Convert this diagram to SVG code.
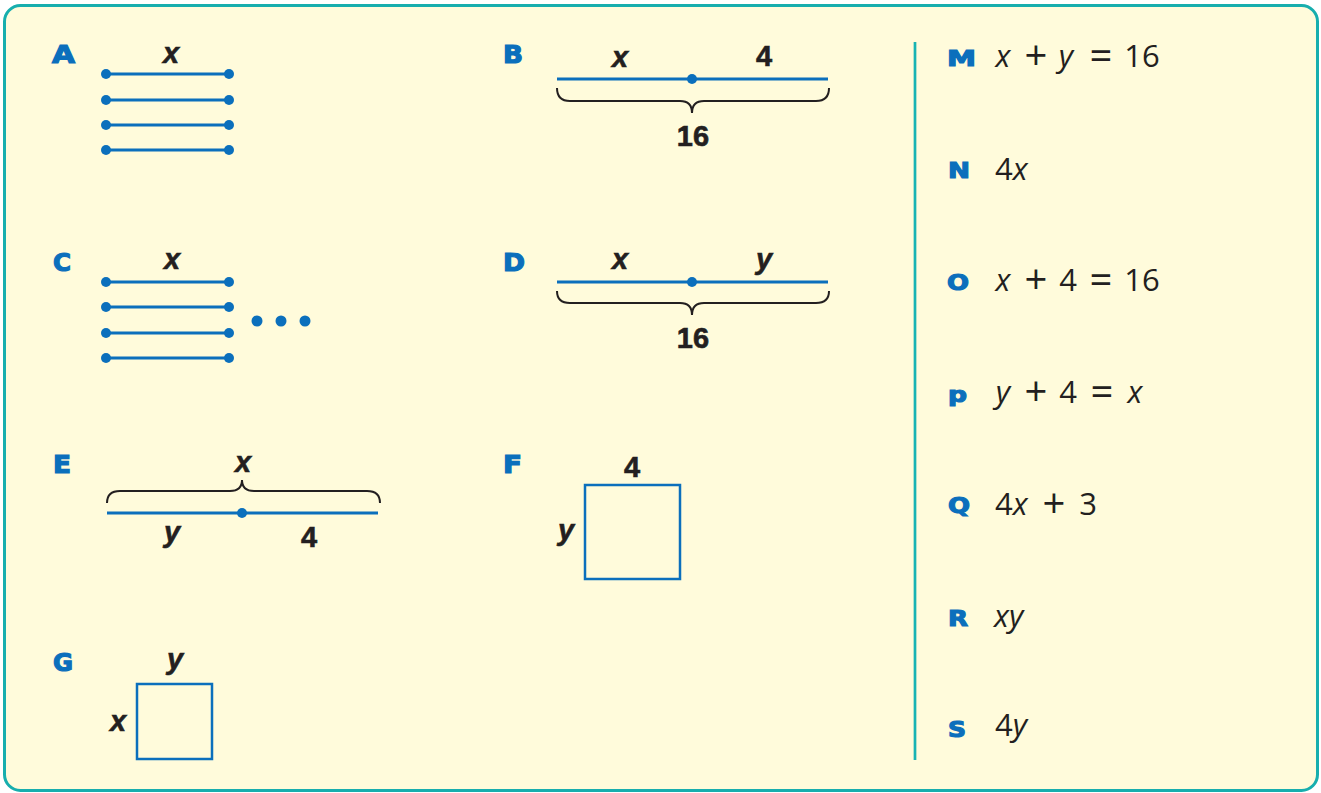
<svg xmlns="http://www.w3.org/2000/svg" width="1321" height="793" viewBox="0 0 1321 793">
<defs>
<style>
.bg{fill:#fffbdb;stroke:#17aeae;stroke-width:3}
.lbl{font-family:"DejaVu Sans","Liberation Sans",sans-serif;font-weight:bold;fill:#0b6fbc;stroke:#0b6fbc;stroke-width:1.2;font-size:24px}
.rl{font-size:22px}
.var{font-family:"Liberation Sans",Arial,sans-serif;font-weight:bold;font-style:italic;fill:#231f20;stroke:#231f20;stroke-width:0.6;font-size:29px;text-anchor:middle}
.num{font-family:"Liberation Sans",Arial,sans-serif;font-weight:bold;fill:#231f20;stroke:#231f20;stroke-width:0.6;font-size:29px;text-anchor:middle}
.seg{stroke:#0b6fbc;stroke-width:3;fill:none}
.dot{fill:#0b6fbc}
.brace{stroke:#231f20;stroke-width:2;fill:none}
.box{stroke:#0b6fbc;stroke-width:2.5;fill:none}
.expr{font-family:"Open Sans","Noto Sans","Liberation Sans",sans-serif;fill:#231f20;font-size:31px}
.op{font-size:40px}
.it{font-style:italic}
.mid{text-anchor:middle}
</style>
</defs>
<rect x="0" y="0" width="1321" height="793" fill="#ffffff"/>
<rect class="bg" x="4.5" y="5.5" width="1313" height="785" rx="16" ry="16"/>
<line x1="915" y1="42" x2="915" y2="760" stroke="#17b3b3" stroke-width="2.7"/>

<g id="A">
<text class="lbl" x="52" y="63" textLength="23" lengthAdjust="spacingAndGlyphs">A</text>
<text class="var" x="171" y="63">x</text>
<g>
<line class="seg" x1="106" y1="74" x2="229" y2="74"/><circle class="dot" cx="106" cy="74" r="5"/><circle class="dot" cx="229" cy="74" r="5"/>
<line class="seg" x1="106" y1="100" x2="229" y2="100"/><circle class="dot" cx="106" cy="100" r="5"/><circle class="dot" cx="229" cy="100" r="5"/>
<line class="seg" x1="106" y1="125" x2="229" y2="125"/><circle class="dot" cx="106" cy="125" r="5"/><circle class="dot" cx="229" cy="125" r="5"/>
<line class="seg" x1="106" y1="150" x2="229" y2="150"/><circle class="dot" cx="106" cy="150" r="5"/><circle class="dot" cx="229" cy="150" r="5"/>
</g>
</g>

<g id="B">
<text class="lbl" x="503" y="63" textLength="20" lengthAdjust="spacingAndGlyphs">B</text>
<text class="var" x="620" y="67">x</text>
<text class="num" x="764" y="66">4</text>
<line class="seg" x1="557" y1="79" x2="828" y2="79"/><circle class="dot" cx="692" cy="79" r="5"/>
<path class="brace" d="M557,88 Q557,101 570,101 L680,101 Q692,101 692,113 Q692,101 704,101 L816,101 Q829,101 829,88"/>
<text class="num" x="693" y="146">16</text>
</g>

<g id="C">
<text class="lbl" x="53" y="271" textLength="18" lengthAdjust="spacingAndGlyphs">C</text>
<text class="var" x="172" y="269">x</text>
<line class="seg" x1="106" y1="282" x2="229" y2="282"/><circle class="dot" cx="106" cy="282" r="5"/><circle class="dot" cx="229" cy="282" r="5"/>
<line class="seg" x1="106" y1="307" x2="229" y2="307"/><circle class="dot" cx="106" cy="307" r="5"/><circle class="dot" cx="229" cy="307" r="5"/>
<line class="seg" x1="106" y1="333" x2="229" y2="333"/><circle class="dot" cx="106" cy="333" r="5"/><circle class="dot" cx="229" cy="333" r="5"/>
<line class="seg" x1="106" y1="358" x2="229" y2="358"/><circle class="dot" cx="106" cy="358" r="5"/><circle class="dot" cx="229" cy="358" r="5"/>
<circle class="dot" cx="257" cy="321" r="5.5"/><circle class="dot" cx="281" cy="321" r="5.5"/><circle class="dot" cx="305" cy="321" r="5.5"/>
</g>

<g id="D">
<text class="lbl" x="503" y="271" textLength="22" lengthAdjust="spacingAndGlyphs">D</text>
<text class="var" x="620" y="269">x</text>
<text class="var" x="764" y="269">y</text>
<line class="seg" x1="557" y1="282" x2="828" y2="282"/><circle class="dot" cx="692" cy="282" r="5"/>
<path class="brace" d="M557,291 Q557,303 570,303 L680,303 Q692,303 692,315 Q692,303 704,303 L816,303 Q829,303 829,291"/>
<text class="num" x="693" y="348">16</text>
</g>

<g id="E">
<text class="lbl" x="53" y="473" textLength="18" lengthAdjust="spacingAndGlyphs">E</text>
<text class="var" x="243" y="472">x</text>
<path class="brace" d="M107,503 Q107,491 120,491 L230,491 Q242,491 242,480 Q242,491 254,491 L367,491 Q380,491 380,503"/>
<line class="seg" x1="107" y1="513" x2="378" y2="513"/><circle class="dot" cx="242" cy="513" r="5"/>
<text class="var" x="172" y="542">y</text>
<text class="num" x="309" y="547">4</text>
</g>

<g id="F">
<text class="lbl" x="503" y="473" textLength="19" lengthAdjust="spacingAndGlyphs">F</text>
<text class="num" x="632" y="477">4</text>
<text class="var" x="566" y="540">y</text>
<rect class="box" x="585" y="485" width="95" height="94"/>
</g>

<g id="G">
<text class="lbl" x="53" y="671" textLength="20" lengthAdjust="spacingAndGlyphs">G</text>
<text class="var" x="175" y="669">y</text>
<text class="var" x="118" y="731">x</text>
<rect class="box" x="137" y="684" width="75" height="75"/>
</g>

<g id="M">
<text class="lbl rl" x="947" y="66" textLength="29" lengthAdjust="spacingAndGlyphs">M</text>
<text class="expr it mid" x="1003" y="67">x</text>
<text class="expr op mid" x="1036" y="70">+</text>
<text class="expr it mid" x="1066" y="67">y</text>
<text class="expr op mid" x="1101" y="70">=</text>
<text class="expr mid" x="1142" y="67">16</text>
</g>

<g id="N">
<text class="lbl rl" x="948" y="178" textLength="22" lengthAdjust="spacingAndGlyphs">N</text>
<text class="expr" x="995" y="180">4<tspan class="it">x</tspan></text>
</g>

<g id="O">
<text class="lbl rl" x="947" y="290" textLength="22" lengthAdjust="spacingAndGlyphs">O</text>
<text class="expr it mid" x="1003" y="291">x</text>
<text class="expr op mid" x="1036" y="294">+</text>
<text class="expr mid" x="1068" y="291">4</text>
<text class="expr op mid" x="1101" y="294">=</text>
<text class="expr mid" x="1142" y="291">16</text>
</g>

<g id="P">
<text class="lbl rl" x="948" y="402" textLength="19" lengthAdjust="spacingAndGlyphs">p</text>
<text class="expr it mid" x="1003" y="403">y</text>
<text class="expr op mid" x="1036" y="406">+</text>
<text class="expr mid" x="1068" y="403">4</text>
<text class="expr op mid" x="1102" y="406">=</text>
<text class="expr it mid" x="1135" y="403">x</text>
</g>

<g id="Q">
<text class="lbl rl" x="948" y="513" textLength="22" lengthAdjust="spacingAndGlyphs">Q</text>
<text class="expr" x="995" y="515">4<tspan class="it">x</tspan></text>
<text class="expr op mid" x="1054" y="518">+</text>
<text class="expr mid" x="1088" y="515">3</text>
</g>

<g id="R">
<text class="lbl rl" x="948" y="626" textLength="20" lengthAdjust="spacingAndGlyphs">R</text>
<text class="expr it" x="994" y="627">xy</text>
</g>

<g id="S">
<text class="lbl rl" x="948" y="737" textLength="18" lengthAdjust="spacingAndGlyphs">S</text>
<text class="expr" x="995" y="736">4<tspan class="it">y</tspan></text>
</g>
</svg>
